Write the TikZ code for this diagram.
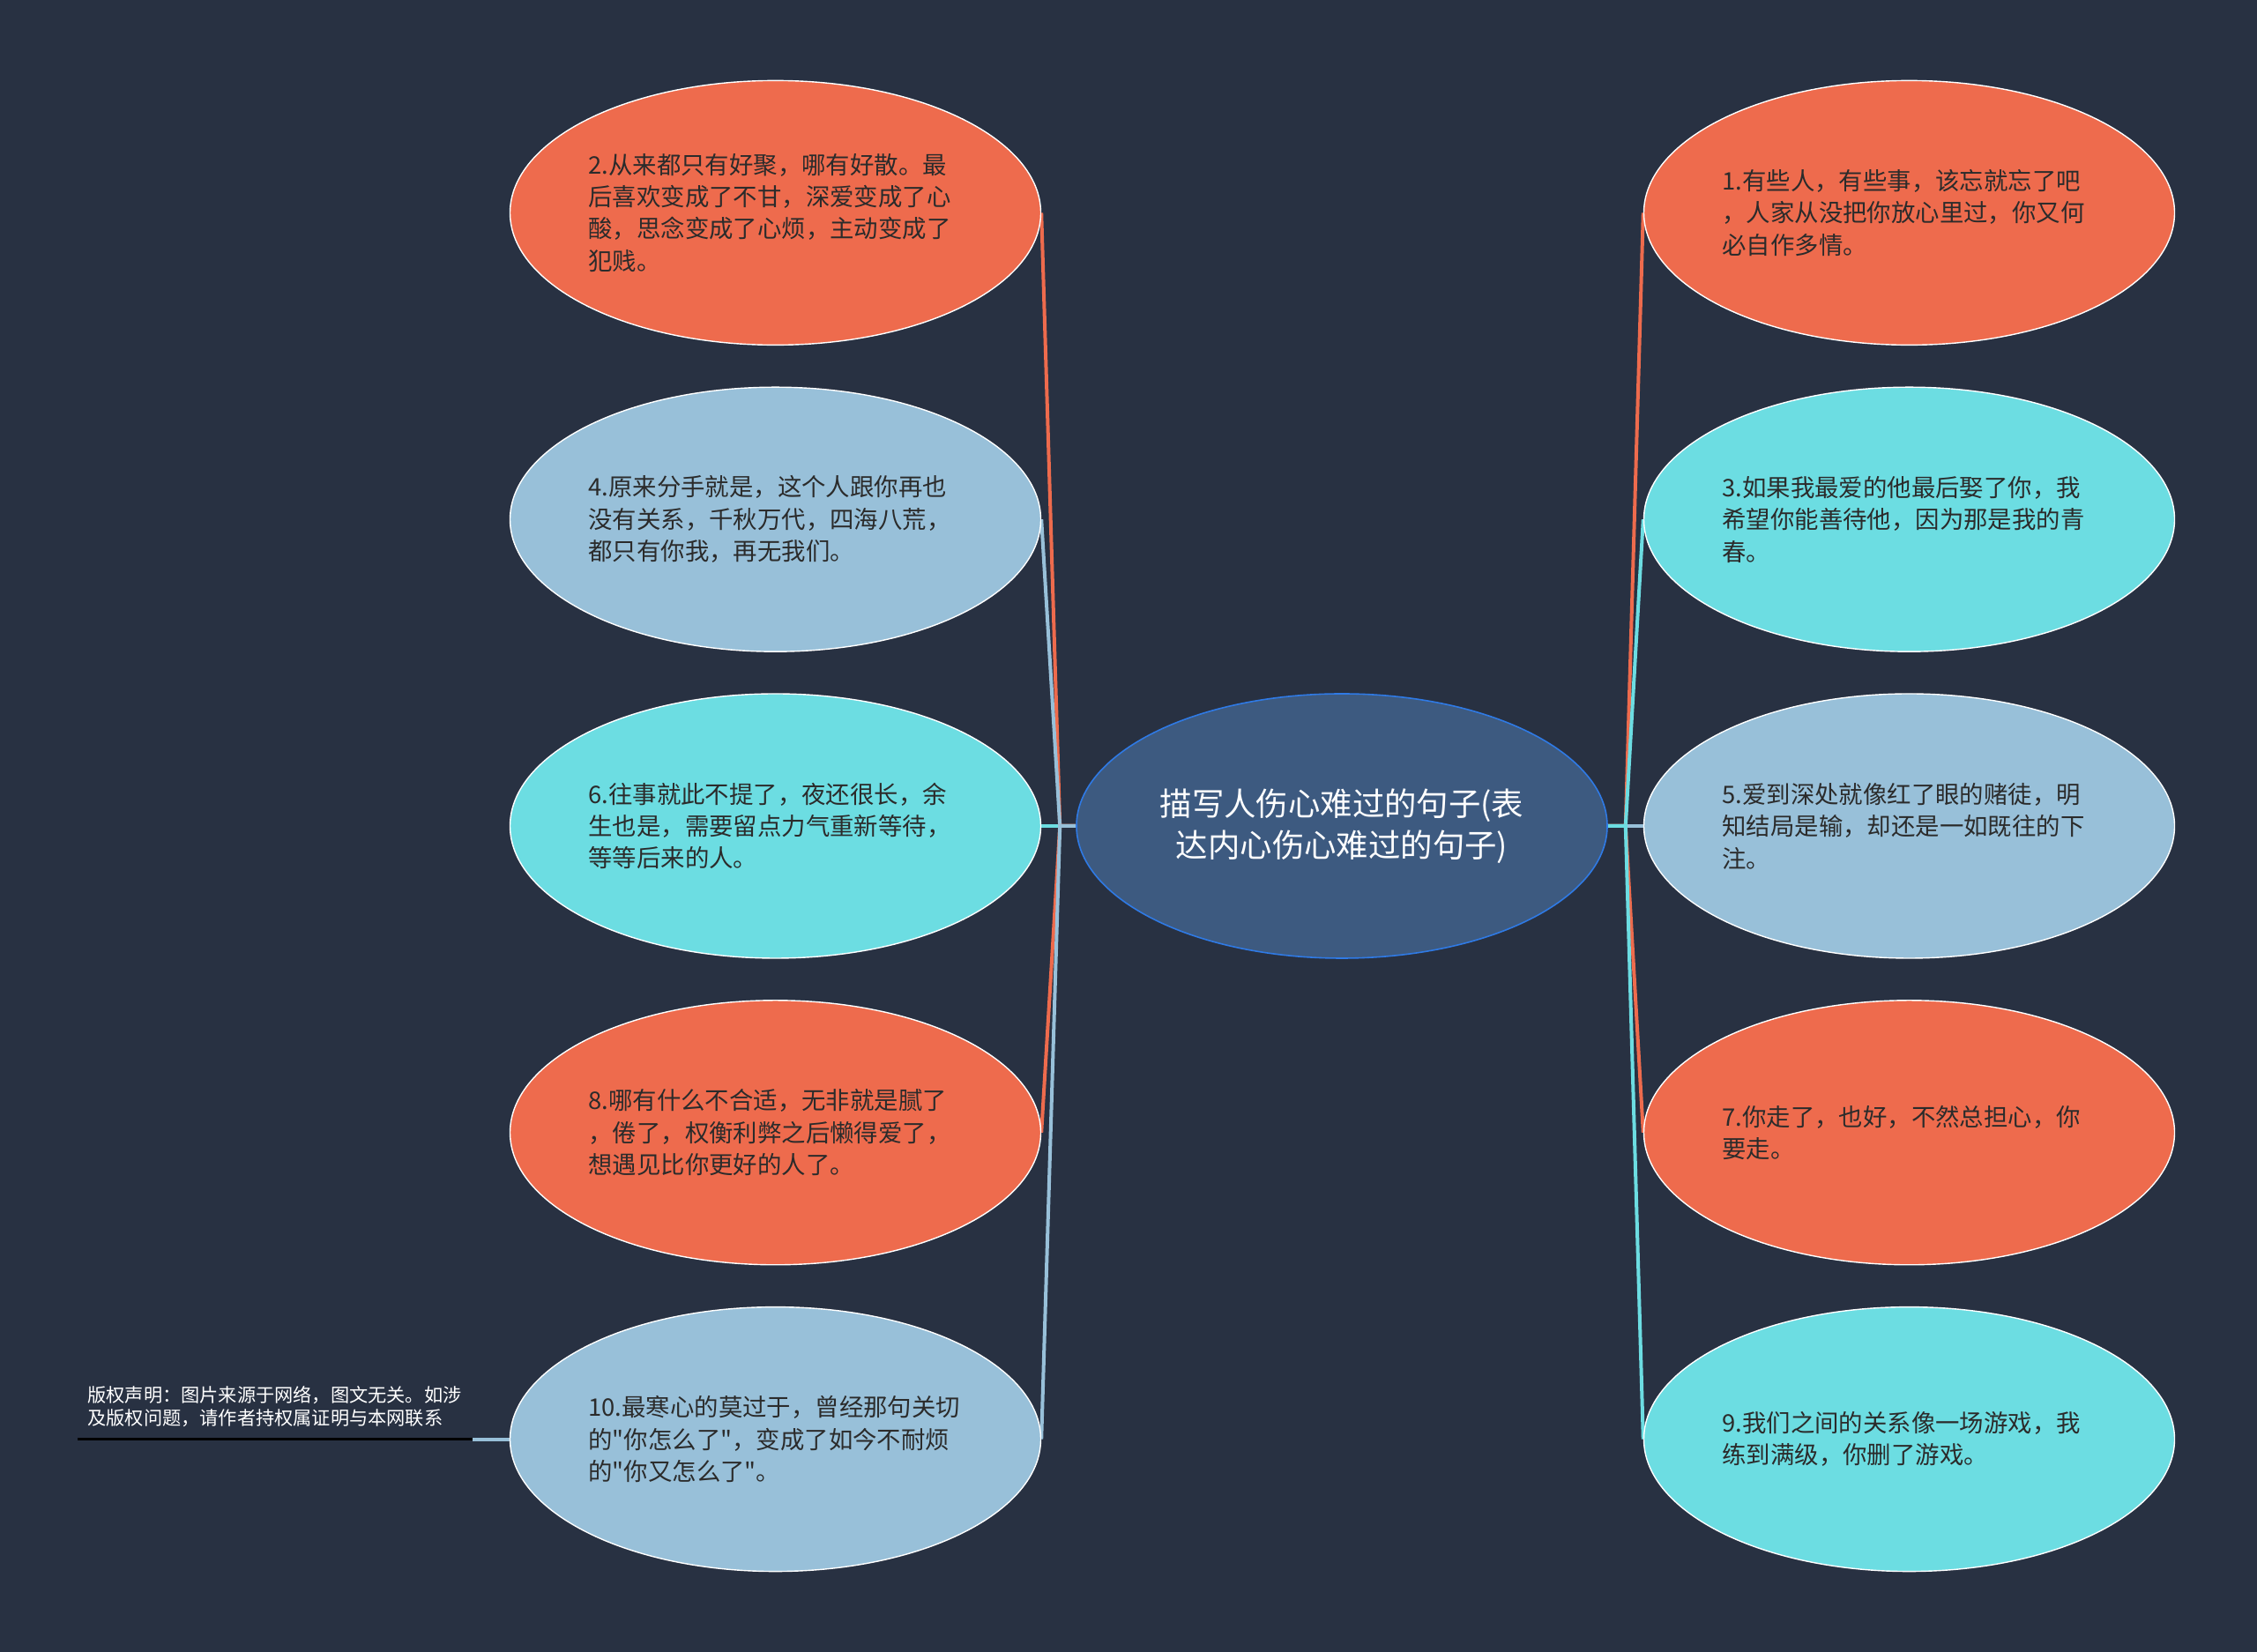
\documentclass[tikz,border=0pt]{standalone}
\usepackage{fontspec}
\usepackage{xcolor}
\usepackage{tikz}
\usetikzlibrary{shapes.geometric, positioning, backgrounds}
\newfontfamily\cjk{Noto Sans CJK SC}
\definecolor{bgnavy}{HTML}{283142}
\definecolor{leaforange}{HTML}{EE6B4D}
\definecolor{leafblue}{HTML}{98C0D9}
\definecolor{leafcyan}{HTML}{6CDDE2}
\definecolor{rootfill}{HTML}{3D5A80}
\definecolor{rootedge}{HTML}{2F7AE5}
\definecolor{leaftext}{HTML}{2B2B2B}
\tikzstyle{rootbox} = [ellipse, minimum width=301pt, minimum height=150pt, inner sep=0pt,
  draw=rootedge, fill=rootfill, line width=0.8pt, text=white, align=center,
  font=\cjk\fontsize{18.2}{23.3}\selectfont]
\tikzstyle{leafbox} = [ellipse, minimum width=301pt, minimum height=150pt, inner sep=0pt,
  draw=white, line width=0.7pt, text=leaftext, text width=212pt, align=left,
  font=\cjk\fontsize{13.7}{18.2}\selectfont]
\tikzstyle{notebox} = [rectangle, inner xsep=5.5pt, inner ysep=6.5pt, text width=212.5pt,
  align=left, text=white, font=\cjk\fontsize{10.6}{13}\selectfont]
\tikzstyle{link} = [line width=2pt]

\begin{document}
\begin{tikzpicture}[node distance=23.2pt]
  \useasboundingbox (0,0) rectangle (1280pt,937pt);

  % Root
  \node (root) [rootbox] at (761pt,468.5pt) {描写人伤心难过的句子(表\\达内心伤心难过的句子)};

  % Left branch
  \node (n6) [leafbox, fill=leafcyan, left=19.5pt of root]
    {6.往事就此不提了，夜还很长，余\\生也是，需要留点力气重新等待，\\等等后来的人。};
  \node (n4) [leafbox, fill=leafblue, above=of n6]
    {4.原来分手就是，这个人跟你再也\\没有关系，千秋万代，四海八荒，\\都只有你我，再无我们。};
  \node (n2) [leafbox, fill=leaforange, above=of n4]
    {2.从来都只有好聚，哪有好散。最\\后喜欢变成了不甘，深爱变成了心\\酸，思念变成了心烦，主动变成了\\犯贱。};
  \node (n8) [leafbox, fill=leaforange, below=of n6]
    {8.哪有什么不合适，无非就是腻了\\，倦了，权衡利弊之后懒得爱了，\\想遇见比你更好的人了。};
  \node (n10) [leafbox, fill=leafblue, below=of n8]
    {10.最寒心的莫过于，曾经那句关切\\的"你怎么了"，变成了如今不耐烦\\的"你又怎么了"。};

  % Right branch
  \node (n5) [leafbox, fill=leafblue, right=20pt of root]
    {5.爱到深处就像红了眼的赌徒，明\\知结局是输，却还是一如既往的下\\注。};
  \node (n3) [leafbox, fill=leafcyan, above=of n5]
    {3.如果我最爱的他最后娶了你，我\\希望你能善待他，因为那是我的青\\春。};
  \node (n1) [leafbox, fill=leaforange, above=of n3]
    {1.有些人，有些事，该忘就忘了吧\\，人家从没把你放心里过，你又何\\必自作多情。};
  \node (n7) [leafbox, fill=leaforange, below=of n5]
    {7.你走了，也好，不然总担心，你\\要走。};
  \node (n9) [leafbox, fill=leafcyan, below=of n7]
    {9.我们之间的关系像一场游戏，我\\练到满级，你删了游戏。};

  % Copyright note
  \node (note) [notebox, anchor=south east] at ([xshift=-21pt]n10.west)
    {版权声明：图片来源于网络，图文无关。如涉\\及版权问题，请作者持权属证明与本网联系};

  % Junctions
  \coordinate (jl) at ([xshift=-9pt]root.west);
  \coordinate (jr) at ([xshift=10pt]root.east);

  \begin{pgfonlayer}{background}
    \fill[bgnavy] (0,0) rectangle (1280pt,937pt);
    % Connectors
    \draw[link, leaforange] (root.west) -- (jl) -- (n2.east);
    \draw[link, leafblue] (root.west) -- (jl) -- (n4.east);
    \draw[link, leafcyan] (root.west) -- (jl) -- (n6.east);
    \draw[link, leaforange] (root.west) -- (jl) -- (n8.east);
    \draw[link, leafblue] (root.west) -- (jl) -- (n10.east);
    \draw[link, leaforange] (root.east) -- (jr) -- (n1.west);
    \draw[link, leafcyan] (root.east) -- (jr) -- (n3.west);
    \draw[link, leafblue] (root.east) -- (jr) -- (n5.west);
    \draw[link, leaforange] (root.east) -- (jr) -- (n7.west);
    \draw[link, leafcyan] (root.east) -- (jr) -- (n9.west);
    \draw[link, leafblue] (n10.west) -- (note.south east);
    \draw[line width=1.5pt, black] (note.south west) -- (note.south east);
  \end{pgfonlayer}
\end{tikzpicture}
\end{document}
